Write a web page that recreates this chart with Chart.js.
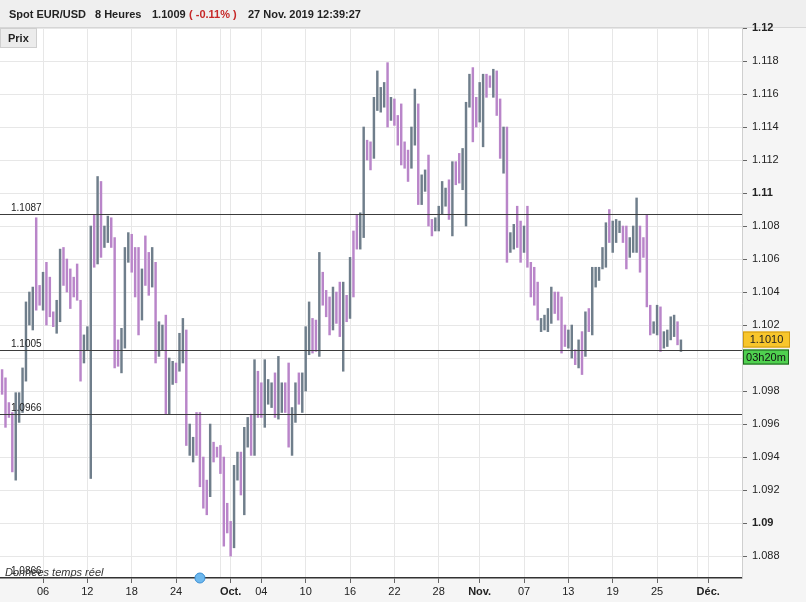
<!DOCTYPE html>
<html>
<head>
<meta charset="utf-8">
<script src="https://cdn.jsdelivr.net/npm/chart.js@4.4.1/dist/chart.umd.min.js"></script>
<style>
  html, body { margin: 0; padding: 0; overflow: hidden; background: #f5f5f5; }
  canvas { display: block; }
</style>
</head>
<body>
<canvas id="chart" width="806" height="602"></canvas>
<script>
// 8h bars, slot 1 = Mon 2 Sep 2019 00:00 (slots count Sunday evening bars too)
const firstBar = 1;
const highs = [
  1.0993,1.0988,1.0973,1.0967,1.0979,1.0979,1.0994,1.1034,1.1040,1.1043,
  1.1085,1.1044,1.1052,1.1058,1.1049,1.1028,1.1035,1.1066,1.1067,1.1060,
  1.1054,1.1049,1.1057,1.1035,1.1014,1.1019,1.1080,1.1087,1.1110,1.1107,
  1.1080,1.1086,1.1085,1.1073,1.1011,1.1018,1.1067,1.1076,1.1075,1.1067,
  1.1067,1.1054,1.1074,1.1064,1.1067,1.1058,1.1022,1.1020,1.1026,1.1000,
  1.0998,1.0997,1.1015,1.1024,1.1017,1.0960,1.0952,1.0967,1.0967,1.0940,
  1.0926,1.0960,1.0949,1.0946,1.0947,1.0940,1.0912,1.0901,1.0935,1.0943,
  1.0943,1.0958,1.0964,1.0966,1.0999,1.0992,1.0985,1.0999,1.0987,1.0985,
  1.0991,1.1001,1.0985,1.0985,1.0997,1.0970,1.0985,1.0991,1.0991,1.1019,
  1.1034,1.1024,1.1023,1.1064,1.1052,1.1041,1.1037,1.1043,1.1040,1.1046,
  1.1046,1.1038,1.1061,1.1077,1.1087,1.1088,1.1140,1.1132,1.1131,1.1158,
  1.1174,1.1164,1.1167,1.1179,1.1158,1.1157,1.1147,1.1154,1.1131,1.1126,
  1.1140,1.1163,1.1154,1.1111,1.1114,1.1123,1.1084,1.1085,1.1092,1.1107,
  1.1103,1.1108,1.1119,1.1119,1.1124,1.1127,1.1155,1.1172,1.1176,1.1158,
  1.1167,1.1172,1.1172,1.1171,1.1175,1.1174,1.1157,1.1140,1.1140,1.1076,
  1.1081,1.1092,1.1083,1.1080,1.1092,1.1058,1.1055,1.1046,1.1024,1.1026,
  1.1030,1.1043,1.1040,1.1040,1.1037,1.1020,1.1017,1.1020,1.1005,1.1011,
  1.1016,1.1028,1.1030,1.1055,1.1055,1.1055,1.1067,1.1082,1.1090,1.1083,
  1.1084,1.1083,1.1080,1.1080,1.1073,1.1080,1.1097,1.1080,1.1073,1.1087,
  1.1032,1.1022,1.1032,1.1031,1.1016,1.1017,1.1025,1.1026,1.1022,1.1011
];
const lows = [
  1.0978,1.0958,1.0964,1.0931,1.0926,1.0961,1.0967,1.0986,1.1020,1.1017,
  1.1029,1.1032,1.1029,1.1020,1.1025,1.1019,1.1015,1.1022,1.1044,1.1040,
  1.1030,1.1037,1.1035,1.0986,1.0997,1.1005,1.0927,1.1055,1.1057,1.1061,
  1.1067,1.1070,1.1067,1.0994,1.0995,1.0991,1.1006,1.1058,1.1052,1.1037,
  1.1014,1.1023,1.1044,1.1038,1.1043,1.0997,1.1001,1.1005,1.0966,1.0966,
  1.0984,1.0985,1.0992,1.0997,1.0947,1.0941,1.0937,1.0941,1.0922,1.0909,
  1.0905,1.0916,1.0937,1.0940,1.0930,1.0886,1.0894,1.0880,1.0885,1.0926,
  1.0917,1.0905,1.0946,1.0941,1.0941,1.0964,1.0964,1.0958,1.0972,1.0970,
  1.0964,1.0963,1.0967,1.0967,1.0946,1.0941,1.0961,1.0972,1.0967,1.0980,
  1.1002,1.1003,1.1004,1.1001,1.1032,1.1025,1.1014,1.1017,1.1021,1.1013,
  1.0992,1.1022,1.1024,1.1037,1.1066,1.1066,1.1073,1.1120,1.1114,1.1121,
  1.1150,1.1149,1.1152,1.1140,1.1144,1.1141,1.1129,1.1117,1.1115,1.1107,
  1.1115,1.1129,1.1093,1.1093,1.1101,1.1080,1.1074,1.1077,1.1077,1.1087,
  1.1092,1.1084,1.1074,1.1105,1.1106,1.1102,1.1080,1.1152,1.1131,1.1140,
  1.1143,1.1128,1.1158,1.1164,1.1158,1.1147,1.1121,1.1112,1.1058,1.1064,
  1.1066,1.1067,1.1058,1.1064,1.1055,1.1037,1.1032,1.1023,1.1016,1.1017,
  1.1016,1.1021,1.1027,1.1023,1.1003,1.1007,1.1006,1.1000,1.0996,1.0994,
  1.0990,1.1001,1.1016,1.1014,1.1043,1.1047,1.1054,1.1055,1.1070,1.1064,
  1.1070,1.1076,1.1070,1.1054,1.1061,1.1064,1.1064,1.1052,1.1061,1.1031,
  1.1014,1.1015,1.1014,1.1004,1.1006,1.1007,1.1011,1.1013,1.1008,1.1004
];
// u = up bar, d = down bar
const dirs = ('dddduuuuuu' + 'dduddduudd' + 'dddduuudud' + 'uuddduuudd' + 'dudduduudu' +
              'uduuduuddd' + 'dudddddduu' + 'duududduuu' + 'duudduuduu' + 'uddudddudd' +
              'ududduuddu' + 'uuududdddd' + 'uuduudduuu' + 'ududduuudd' + 'uudduddudu' +
              'uddudddduu' + 'uudddduudu' + 'duduuuuudu' + 'uudduuuddd' + 'duuduuuudu').split('');

const tickSlots  = [13, 26, 39, 52, 68, 77, 90, 103, 116, 129, 141, 154, 167, 180, 193, 208];
const tickLabels = ['06','12','18','24','Oct.','04','10','16','22','28','Nov.','07','13','19','25','Déc.'];
const monthLabels = ['Oct.', 'Nov.', 'Déc.'];
const extraGridSlots = [65, 205];
const yTicks = [1.088,1.09,1.092,1.094,1.096,1.098,1.1,1.102,1.104,1.106,1.108,1.11,1.112,1.114,1.116,1.118,1.12];
const levels = [1.1087, 1.1005, 1.0966, 1.0866];
const lastPrice = 1.1010;
const countdown = '03h20m';
const markerSlot = 59;

const FONT = '"Liberation Sans", Arial, sans-serif';
const upColor = '#6f7e8b';
const downColor = '#b985c9';

const bars = highs.map((h, i) => ({ x: firstBar + i, y: [lows[i], h] }));

function labelFor(v) {
  const k = tickSlots.indexOf(v);
  return k >= 0 ? tickLabels[k] : '';
}

const decor = {
  id: 'decor',
  beforeDraw(chart) {
    const { ctx, chartArea: a, width, height } = chart;
    ctx.save();
    ctx.fillStyle = '#f5f5f5';
    ctx.fillRect(0, 0, width, height);
    ctx.fillStyle = '#efefef';
    ctx.fillRect(0, 0, width, a.top);
    ctx.fillStyle = '#ffffff';
    ctx.fillRect(a.left, a.top, a.right - a.left, a.bottom - a.top);
    ctx.strokeStyle = '#d6d6d6';
    ctx.beginPath();
    ctx.moveTo(0, a.top - 0.5); ctx.lineTo(width, a.top - 0.5);
    ctx.stroke();
    ctx.restore();
  },
  afterDatasetsDraw(chart) {
    const { ctx, chartArea: a, scales } = chart;
    ctx.save();
    ctx.strokeStyle = '#3c3c3c';
    ctx.lineWidth = 1;
    ctx.fillStyle = '#222';
    ctx.font = '10px ' + FONT;
    ctx.textBaseline = 'alphabetic';
    levels.forEach(v => {
      const y = Math.round(scales.y.getPixelForValue(v)) + 0.5;
      if (y < a.bottom + 1) {
        ctx.beginPath();
        ctx.moveTo(a.left, y); ctx.lineTo(a.right, y);
        ctx.stroke();
      }
      ctx.fillText(v.toFixed(4), 11, Math.min(y, a.bottom) - 4);
    });
    ctx.restore();
  },
  afterDraw(chart) {
    const { ctx, chartArea: a, scales } = chart;
    ctx.save();
    // header
    ctx.textBaseline = 'alphabetic';
    ctx.font = 'bold 11px ' + FONT;
    ctx.fillStyle = '#222';
    ctx.fillText('Spot EUR/USD', 9, 18);
    ctx.fillText('8 Heures', 95, 18);
    ctx.fillText('1.1009', 152, 18);
    ctx.fillStyle = '#c62828';
    ctx.fillText('( -0.11% )', 189, 18);
    ctx.fillStyle = '#222';
    ctx.fillText('27 Nov. 2019 12:39:27', 248, 18);

    // "Prix" button
    ctx.fillStyle = '#ececec';
    ctx.fillRect(0, a.top, 37, 20);
    ctx.strokeStyle = '#cfcfcf';
    ctx.strokeRect(0.5, a.top + 0.5, 36, 19);
    ctx.fillStyle = '#222';
    ctx.font = 'bold 11px ' + FONT;
    ctx.fillText('Prix', 8, a.top + 14);

    // footnote
    ctx.font = 'italic 11px ' + FONT;
    ctx.fillStyle = '#333';
    ctx.fillText('Données temps réel', 5, a.bottom - 2);

    // event marker on the time axis
    const mx = scales.x.getPixelForValue(markerSlot);
    ctx.beginPath();
    ctx.arc(mx, a.bottom, 5, 0, Math.PI * 2);
    ctx.fillStyle = '#6db8ee';
    ctx.fill();
    ctx.strokeStyle = '#3c8fd4';
    ctx.lineWidth = 1;
    ctx.stroke();

    // last price and countdown tags
    const py = scales.y.getPixelForValue(lastPrice) - 2;
    ctx.fillStyle = '#f8c62c';
    ctx.fillRect(743, py - 8, 47, 16);
    ctx.strokeStyle = '#d09a10';
    ctx.strokeRect(743.5, py - 7.5, 46, 15);
    ctx.fillStyle = '#222';
    ctx.font = '11px ' + FONT;
    ctx.textAlign = 'center';
    ctx.textBaseline = 'middle';
    ctx.fillText(lastPrice.toFixed(4), 766.5, py + 0.5);
    const gy = py + 17;
    ctx.fillStyle = '#4fd14f';
    ctx.fillRect(743, gy - 7, 46, 15);
    ctx.strokeStyle = '#1d5e1d';
    ctx.strokeRect(743.5, gy - 6.5, 45, 14);
    ctx.fillStyle = '#111';
    ctx.fillText(countdown, 766, gy + 1);
    ctx.restore();
  }
};

new Chart(document.getElementById('chart'), {
  type: 'bar',
  data: {
    datasets: [{
      data: bars,
      backgroundColor: c => dirs[c.dataIndex] === 'u' ? upColor : downColor,
      borderWidth: 0,
      barThickness: 1.8
    }]
  },
  options: {
    responsive: false,
    animation: false,
    devicePixelRatio: 1,
    layout: { padding: { top: 28, left: 0, right: 0, bottom: 0 } },
    plugins: { legend: { display: false }, tooltip: { enabled: false } },
    scales: {
      x: {
        type: 'linear',
        offset: false,
        min: 0.39,
        max: 217.9,
        afterBuildTicks: s => {
          s.ticks = tickSlots.concat(extraGridSlots).sort((p, q) => p - q).map(v => ({ value: v }));
        },
        afterFit: s => { s.height = 24; },
        grid: {
          offset: false,
          color: '#e7e7e7',
          tickColor: c => labelFor(c.tick && c.tick.value) ? '#666' : 'rgba(0,0,0,0)',
          tickLength: 5,
          drawTicks: true
        },
        border: { color: '#333', width: 1.5 },
        ticks: {
          autoSkip: false,
          maxRotation: 0,
          padding: 2,
          color: '#222',
          callback: v => labelFor(v),
          font: c => ({ family: FONT, size: 11,
                        weight: monthLabels.includes(labelFor(c.tick && c.tick.value)) ? 'bold' : 'normal' })
        }
      },
      y: {
        position: 'right',
        min: 1.08667,
        max: 1.12,
        afterBuildTicks: s => { s.ticks = yTicks.map(v => ({ value: v })); },
        afterFit: s => { s.width = 64; },
        grid: { color: '#e7e7e7', tickColor: '#666', tickLength: 5 },
        border: { color: '#cfcfcf' },
        ticks: {
          padding: 5,
          color: '#222',
          callback: v => String(+v.toFixed(3)),
          font: c => {
            const v = c.tick ? c.tick.value : 0;
            const round = Math.abs(v * 100 - Math.round(v * 100)) < 1e-6;
            return { family: FONT, size: 11, weight: round ? 'bold' : 'normal' };
          }
        }
      }
    }
  },
  plugins: [decor]
});
</script>
</body>
</html>
